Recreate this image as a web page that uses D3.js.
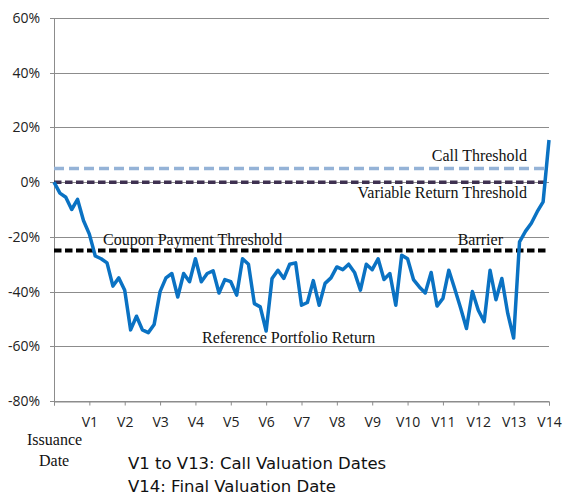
<!DOCTYPE html>
<html>
<head>
<meta charset="utf-8">
<script src="https://cdn.jsdelivr.net/npm/d3@7"></script>
<style>
  body { margin: 0; background: #fff; }
  svg { display: block; }
  .sans { font-family: "Open Sans", sans-serif; fill: #222; }
  .note { font-family: "DejaVu Sans", sans-serif; fill: #111; }
  .serif { font-family: "Liberation Serif", "Times New Roman", serif; fill: #111; }
</style>
</head>
<body>
<svg id="chart"></svg>
<script>
// monthly reference portfolio return (%), month 0 = issuance date
const returns = [
  0, -4, -5.5, -10, -6.3, -14, -19, -27, -28, -29.5,
  -38, -35, -39.5, -54, -49, -54, -55, -52, -40, -35,
  -33.4, -42, -33.4, -36.4, -28, -36.4, -33.4, -32.4, -40.5, -35.6,
  -36.4, -41.3, -28, -30, -44.4, -45.6, -54.4, -35.2, -32.2, -35.2,
  -30, -29.5, -45, -44, -36, -45, -37, -35, -31, -32,
  -30, -33, -39.5, -30, -32, -28, -35.6, -33.4, -45, -26.7,
  -28, -35.6, -38.3, -40.5, -33, -45.3, -42.5, -32.2, -39, -46,
  -53.5, -40, -46.8, -51, -32.2, -43, -35.2, -48, -57, -21.8,
  -18, -15, -10.8, -7.2, 15.4
];
const valuationLabels = ['', 'V1', 'V2', 'V3', 'V4', 'V5', 'V6', 'V7', 'V8', 'V9', 'V10', 'V11', 'V12', 'V13', 'V14'];
const yTicks = [60, 40, 20, 0, -20, -40, -60, -80];
const thresholds = [
  { name: 'call', value: 5 },
  { name: 'variable', value: 0 },
  { name: 'barrier', value: -25 }
];

const width = 564, height = 497;
const margin = { top: 18, right: 15, bottom: 96, left: 54 };

const svg = d3.select('#chart')
    .attr('width', width)
    .attr('height', height);

const x = d3.scaleLinear()
    .domain([0, returns.length - 1])
    .range([margin.left, width - margin.right]);

const y = d3.scaleLinear()
    .domain([-80, 60])
    .range([height - margin.bottom, margin.top]);

// grid lines
svg.append('g')
    .selectAll('line')
    .data(yTicks)
    .enter().append('line')
    .attr('x1', margin.left - 4)
    .attr('x2', width - margin.right)
    .attr('y1', d => Math.round(y(d)) + 0.5)
    .attr('y2', d => Math.round(y(d)) + 0.5)
    .attr('stroke', '#8c8c8c')
    .attr('stroke-width', 1);

// y axis labels
const yAxis = svg.append('g')
    .attr('transform', `translate(${margin.left},0)`)
    .call(d3.axisLeft(y).tickValues(yTicks).tickSize(0).tickPadding(14).tickFormat(d => d + '%'));
yAxis.select('.domain').attr('stroke', '#8c8c8c');
yAxis.selectAll('text')
    .attr('class', 'sans')
    .style('font-size', '14px');

// x axis
const xAxis = svg.append('g')
    .attr('transform', `translate(0,${Math.round(y(-80)) + 0.5})`)
    .call(d3.axisBottom(x)
        .tickValues(valuationLabels.map((d, i) => i * 6))
        .tickSize(4)
        .tickPadding(12)
        .tickFormat((d, i) => valuationLabels[i]));
xAxis.select('.domain').attr('stroke', '#8c8c8c');
xAxis.selectAll('.tick line').attr('stroke', '#8c8c8c');
xAxis.selectAll('text')
    .attr('class', 'sans')
    .style('font-size', '14px');

// threshold lines
const thrStyle = {
    call: { color: '#95b3d7', dash: '10,5', w: 3.5 },
    variable: { color: '#3f3151', dash: '7.5,3.5', w: 3.5 },
    barrier: { color: '#000', dash: '7.5,3.5', w: 4 }
};
svg.append('g')
    .selectAll('line')
    .data(thresholds)
    .enter().append('line')
    .attr('x1', margin.left)
    .attr('x2', width - margin.right)
    .attr('y1', d => y(d.value))
    .attr('y2', d => y(d.value))
    .attr('stroke', d => thrStyle[d.name].color)
    .attr('stroke-width', d => thrStyle[d.name].w)
    .attr('stroke-dasharray', d => thrStyle[d.name].dash);

// return line
const line = d3.line()
    .x((d, i) => x(i))
    .y(d => y(d));

svg.append('path')
    .datum(returns)
    .attr('fill', 'none')
    .attr('stroke', '#0a72c3')
    .attr('stroke-width', 3.5)
    .attr('stroke-linejoin', 'round')
    .attr('d', line);

// annotations
const notes = [
    { text: 'Call Threshold', x: 527, y: y(5) - 7, anchor: 'end' },
    { text: 'Variable Return Threshold', x: 527, y: y(0) + 16, anchor: 'end' },
    { text: 'Coupon Payment Threshold', x: 103, y: y(-25) - 6, anchor: 'start' },
    { text: 'Barrier', x: 503, y: y(-25) - 6, anchor: 'end' },
    { text: 'Reference Portfolio Return', x: 202, y: 343, anchor: 'start' }
];
svg.append('g')
    .selectAll('text')
    .data(notes)
    .enter().append('text')
    .attr('class', 'serif')
    .attr('x', d => d.x)
    .attr('y', d => d.y)
    .attr('text-anchor', d => d.anchor)
    .style('font-size', '16px')
    .text(d => d.text);

svg.append('text').attr('class', 'serif')
    .attr('x', 27).attr('y', 445)
    .style('font-size', '16px').text('Issuance');
svg.append('text').attr('class', 'serif')
    .attr('x', 39).attr('y', 466)
    .style('font-size', '16px').text('Date');

svg.append('text').attr('class', 'note')
    .attr('x', 128).attr('y', 469)
    .style('font-size', '16.5px')
    .text('V1 to V13: Call Valuation Dates');
svg.append('text').attr('class', 'note')
    .attr('x', 128).attr('y', 492)
    .style('font-size', '16.5px')
    .text('V14: Final Valuation Date');
</script>
</body>
</html>
